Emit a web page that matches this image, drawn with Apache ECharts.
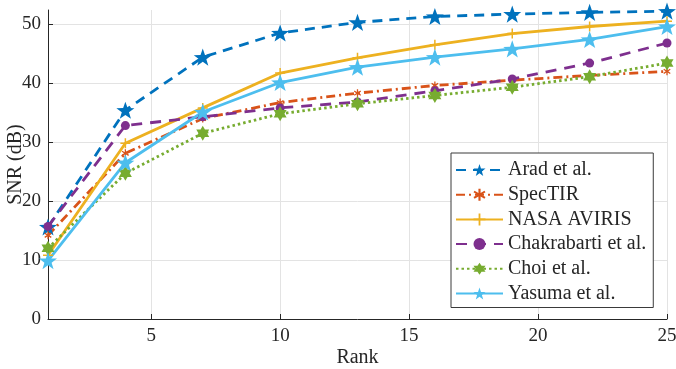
<!DOCTYPE html>
<html>
<head>
<meta charset="utf-8">
<script src="https://cdn.jsdelivr.net/npm/echarts@6/dist/echarts.min.js"></script>
<style>
  html, body { margin: 0; padding: 0; background: #fff; }
  #snrChart { width: 676px; height: 369px; }
</style>
</head>
<body>
<div id="snrChart"></div>
<script>
const ranks = [1, 4, 7, 10, 13, 16, 19, 22, 25];
const arad = [15.6, 35.4, 44.4, 48.5, 50.3, 51.3, 51.7, 52.0, 52.2];
const specTir = [14.2, 28.1, 34.0, 36.7, 38.3, 39.6, 40.5, 41.3, 42.0];
const nasaAviris = [10.8, 29.8, 35.8, 41.7, 44.3, 46.5, 48.4, 49.6, 50.5];
const chakrabarti = [15.7, 32.8, 34.3, 35.8, 36.8, 38.7, 40.7, 43.4, 46.8];
const choi = [12.0, 24.7, 31.5, 34.8, 36.5, 37.9, 39.3, 41.1, 43.4];
const yasuma = [9.9, 26.5, 35.1, 40.1, 42.7, 44.4, 45.8, 47.4, 49.6];
const xTicks = [5, 10, 15, 20, 25];
const yTicks = [0, 10, 20, 30, 40, 50];

const star = 'path://M0,-10L2.35,-3.24L9.51,-3.09L3.8,1.24L5.88,8.09L0,4L-5.88,8.09L-3.8,1.24L-9.51,-3.09L-2.35,-3.24Z';
const hexagram = 'path://M0,-10L2.89,-5L8.66,-5L5.77,0L8.66,5L2.89,5L0,10L-2.89,5L-8.66,5L-5.77,0L-8.66,-5L-2.89,-5Z';
const plus = 'path://M-1.5,-10H1.5V-1.5H10V1.5H1.5V10H-1.5V1.5H-10V-1.5H-1.5Z';
const asterisk = 'path://M-1.6,-10H1.6V-2.8L7.4,-6.6L9,-3.9L3.2,0L9,3.9L7.4,6.6L1.6,2.8V10H-1.6V2.8L-7.4,6.6L-9,3.9L-3.2,0L-9,-3.9L-7.4,-6.6L-1.6,-2.8Z';

const pair = ys => ranks.map((x, i) => [x, ys[i]]);
const font = 'Liberation Serif';
const ink = '#262626';

function line(name, ys, color, type, symbol, size) {
  return {
    name: name,
    type: 'line',
    data: pair(ys),
    symbol: symbol,
    symbolSize: size,
    symbolKeepAspect: true,
    showAllSymbol: true,
    itemStyle: { color: color },
    lineStyle: { color: color, width: 2.8, type: type },
    z: 3,
  };
}

const myChart = echarts.init(document.getElementById('snrChart'), null, { renderer: 'canvas' });
myChart.setOption({
  animation: false,
  backgroundColor: '#fff',
  textStyle: { fontFamily: font, color: ink },
  grid: { left: 48, right: 9, top: 10, bottom: 50, outerBoundsMode: 'none', containLabel: false },
  xAxis: {
    type: 'value',
    min: 1,
    max: 25,
    name: 'Rank',
    nameLocation: 'middle',
    nameGap: 29,
    nameMoveOverlap: false,
    nameTextStyle: { fontFamily: font, fontSize: 20, color: ink },
    axisLine: { lineStyle: { color: ink, width: 1 } },
    axisTick: { inside: true, length: 5, customValues: xTicks, lineStyle: { color: ink } },
    axisLabel: { customValues: xTicks, fontFamily: font, fontSize: 19, color: ink, margin: 8 },
    splitLine: { show: true, lineStyle: { color: '#e3e3e3', width: 1 } },
  },
  yAxis: {
    type: 'value',
    min: 0,
    max: 52.4,
    name: 'SNR (dB)',
    nameLocation: 'middle',
    nameGap: 22,
    nameMoveOverlap: false,
    nameTextStyle: { fontFamily: font, fontSize: 20, color: ink },
    axisLine: { show: true, lineStyle: { color: ink, width: 1 } },
    axisTick: { show: true, inside: true, length: 5, customValues: yTicks, lineStyle: { color: ink } },
    axisLabel: { customValues: yTicks, fontFamily: font, fontSize: 19, color: ink, margin: 7 },
    splitLine: { show: true, lineStyle: { color: '#e3e3e3', width: 1 } },
  },
  legend: {
    orient: 'vertical',
    left: 451,
    top: 153,
    padding: [7, 7, 4, 4],
    itemWidth: 47,
    itemHeight: 15,
    itemGap: 4.7,
    backgroundColor: '#fff',
    borderColor: '#3a3a3a',
    borderWidth: 1,
    borderRadius: 0,
    textStyle: { fontFamily: font, fontSize: 20, color: ink, lineHeight: 20 },
  },
  series: [
    line('Arad et al.', arad, '#0072BD', [10, 7], star, 18),
    line('SpecTIR', specTir, '#D95319', [9, 4, 2, 4], asterisk, 8),
    line('NASA AVIRIS', nasaAviris, '#EDB120', 'solid', plus, 10),
    line('Chakrabarti et al.', chakrabarti, '#7E2F8E', [11, 8], 'circle', 9),
    line('Choi et al.', choi, '#77AC30', [2.5, 3], hexagram, 15),
    line('Yasuma et al.', yasuma, '#4DBEEE', 'solid', star, 18),
  ],
});
</script>
</body>
</html>
